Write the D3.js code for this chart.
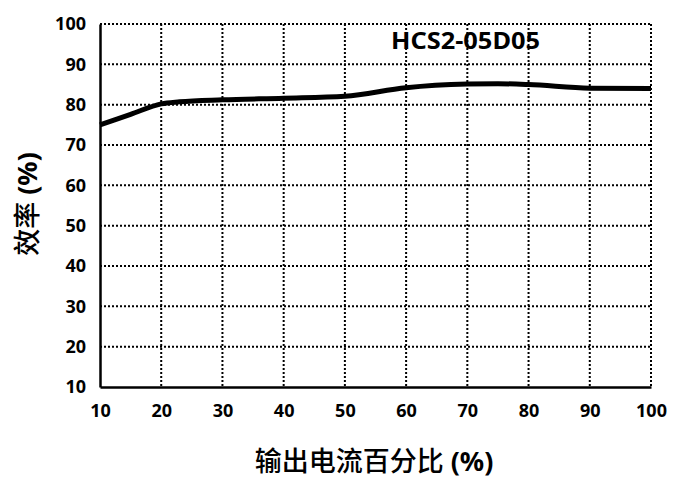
<!DOCTYPE html>
<html><head><meta charset="utf-8">
<script src="https://cdn.jsdelivr.net/npm/d3@7"></script>
<style>body{margin:0;background:#fff}svg{display:block}</style>
</head><body>
<svg id="c" width="684" height="480"></svg>
<script>
const xTicks = [10,20,30,40,50,60,70,80,90,100];
const yTicks = [10,20,30,40,50,60,70,80,90,100];
const loadPct = [10,15,20,23,30,40,50,60,70,75,80,90,100];
const efficiency = [75,77.6,80.2,80.7,81.2,81.6,82.1,84.2,85.1,85.2,85.0,84.1,84.0];
const title = "HCS2-05D05";
const xLabel = ["输出电流百分比", " (%)"];
const yLabel = ["效率", " (%)"];

const svg = d3.select("#c");
const L=100,R=651,T=24,B=387;
const x = d3.scaleLinear().domain([10,100]).range([L,R]);
const y = d3.scaleLinear().domain([10,100]).range([B,T]);
const font = "'Noto Sans','DejaVu Sans',sans-serif";
const cjk = "'Noto Sans CJK SC',sans-serif";

// grid
const g = svg.append("g");
g.selectAll("line.v").data(xTicks.filter(d=>d>10)).join("line")
 .attr("x1",d=>x(d)).attr("x2",d=>x(d)).attr("y1",T).attr("y2",B)
 .attr("stroke","#000").attr("stroke-width",2).attr("stroke-dasharray","2,2");
g.selectAll("line.h").data(yTicks.filter(d=>d>10)).join("line")
 .attr("y1",d=>y(d)).attr("y2",d=>y(d)).attr("x1",L).attr("x2",R)
 .attr("stroke","#000").attr("stroke-width",2).attr("stroke-dasharray","2,2");

// axes
const xa = svg.append("g").attr("transform",`translate(0,${B})`)
 .call(d3.axisBottom(x).tickValues(xTicks).tickSize(0).tickPadding(17));
const ya = svg.append("g").attr("transform",`translate(${L},0)`)
 .call(d3.axisLeft(y).tickValues(yTicks).tickSize(0).tickPadding(14));
[xa,ya].forEach(a=>{
  a.select(".domain").attr("stroke","#000").attr("stroke-width",2.5);
  a.selectAll("text").attr("font-family",font).attr("font-weight","bold")
   .attr("font-size",18).attr("fill","#000");
});

// curve
svg.append("path").datum(loadPct.map((d,i)=>[d,efficiency[i]]))
 .attr("d",d3.line().x(d=>x(d[0])).y(d=>y(d[1])).curve(d3.curveMonotoneX))
 .attr("fill","none").attr("stroke","#000").attr("stroke-width",5)
 .attr("stroke-linecap","butt");

// title
svg.append("text").attr("x",391).attr("y",49).text(title)
 .attr("font-family",font).attr("font-weight","bold").attr("font-size",23)
 .attr("textLength",149).attr("lengthAdjust","spacingAndGlyphs").attr("fill","#000");

function label(sel, parts){
  sel.append("tspan").text(parts[0]).attr("font-family",cjk).attr("font-weight","500");
  sel.append("tspan").text(parts[1]).attr("font-family",font).attr("font-weight","bold");
}
const xl = svg.append("text").attr("x",374).attr("y",471).attr("text-anchor","middle")
 .attr("font-size",27).attr("fill","#000");
label(xl, xLabel);
const yl = svg.append("text").attr("transform","translate(37,204) rotate(-90)").attr("text-anchor","middle")
 .attr("font-size",27).attr("fill","#000");
label(yl, yLabel);
</script>
</body></html>
